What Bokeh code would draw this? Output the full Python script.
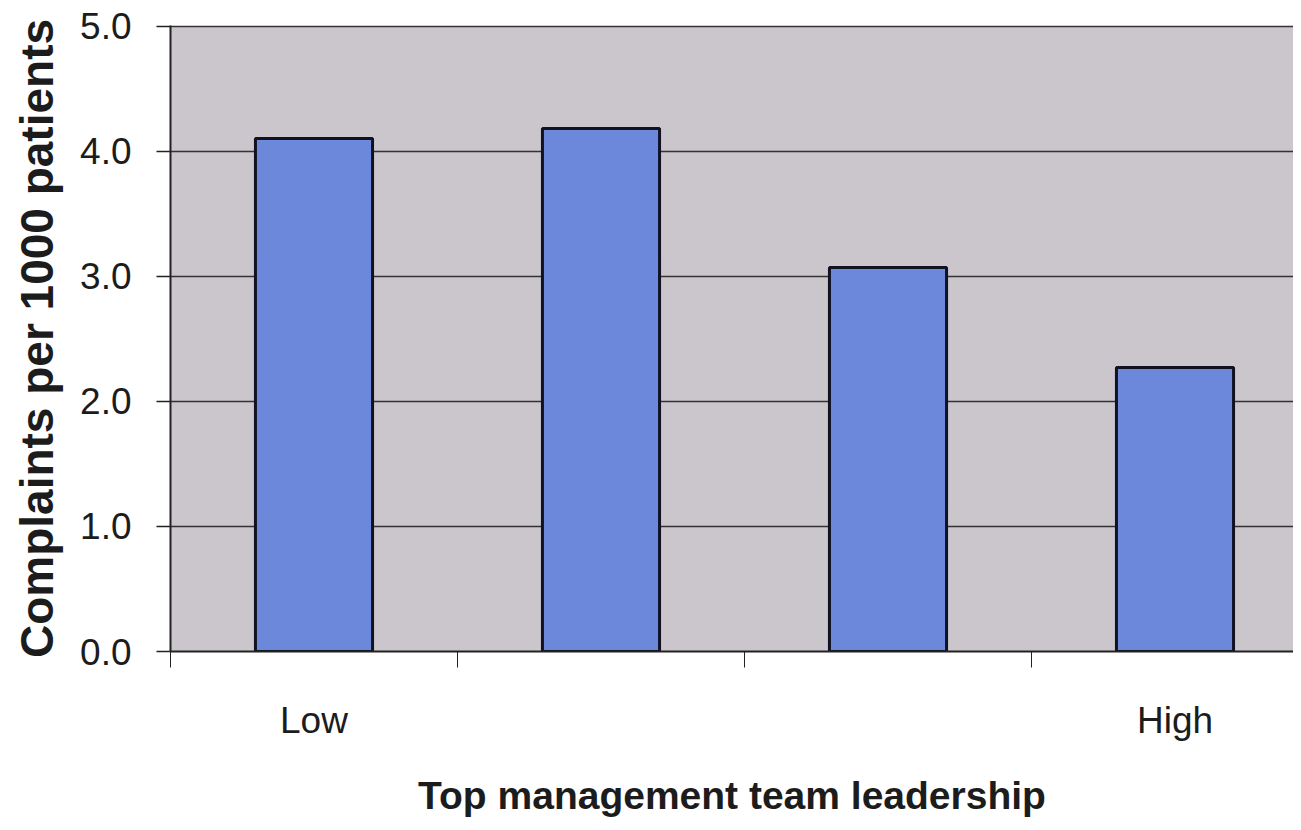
from bokeh.plotting import figure
from bokeh.models import FixedTicker, Range1d
from bokeh.embed import file_html
from bokeh.resources import INLINE

# ---- data ----
tick_labels = ["Low", "", "", "High"]
complaints = [4.10, 4.18, 3.07, 2.27]
y_ticks = [0, 1, 2, 3, 4, 5]

x_pos = [i + 0.5 for i in range(len(complaints))]

W, H = 1293, 826
LEFT, TOP, BOTTOM_Y = 170, 25, 651
frame_w = W - LEFT
x_end = frame_w / 287.0

p = figure(width=W, height=H, output_backend="svg", toolbar_location=None,
           x_range=Range1d(0, x_end), y_range=Range1d(0, 5.004),
           min_border_left=LEFT, min_border_top=TOP, min_border_bottom=H - BOTTOM_Y,
           min_border_right=0)

p.background_fill_color = "#cac6cc"
p.border_fill_color = "white"
p.outline_line_color = None

p.vbar(x=x_pos, top=complaints, bottom=0, width=0.408,
       fill_color="#6b88db", line_color="#111122", line_width=3)

TXT = "#1c1c1c"

# y axis
p.yaxis.ticker = FixedTicker(ticks=y_ticks)
p.yaxis.major_label_overrides = {t: f"{t:.1f}" for t in y_ticks}
p.yaxis.minor_tick_line_color = None
p.yaxis.major_tick_out = 14
p.yaxis.major_tick_in = 0
p.yaxis.major_tick_line_color = "#222222"
p.yaxis.major_tick_line_width = 1.5
p.yaxis.axis_line_color = "#222222"
p.yaxis.axis_line_width = 2
p.yaxis.major_label_text_font = "Liberation Sans"
p.yaxis.major_label_text_font_size = "37px"
p.yaxis.major_label_text_color = TXT
p.yaxis.major_label_standoff = 25
p.yaxis.axis_label = "Complaints per 1000 patients"
p.yaxis.axis_label_text_font = "Liberation Sans"
p.yaxis.axis_label_text_font_style = "bold"
p.yaxis.axis_label_text_font_size = "46px"
p.yaxis.axis_label_text_color = TXT
p.yaxis.axis_label_standoff = 14

# x axis
p.xaxis.ticker = FixedTicker(ticks=x_pos, minor_ticks=list(range(len(complaints) + 1)))
p.xaxis.major_label_overrides = {x: lab for x, lab in zip(x_pos, tick_labels)}
p.xaxis.major_tick_out = 0
p.xaxis.major_tick_in = 0
p.xaxis.minor_tick_out = 16
p.xaxis.minor_tick_in = 0
p.xaxis.minor_tick_line_color = "#222222"
p.xaxis.minor_tick_line_width = 1
p.xaxis.axis_line_color = "#222222"
p.xaxis.axis_line_width = 2
p.xaxis.major_label_text_font = "Liberation Sans"
p.xaxis.major_label_text_font_size = "37px"
p.xaxis.major_label_text_color = TXT
p.xaxis.major_label_standoff = 32
p.xaxis.axis_label = "Top management team leadership"
p.xaxis.axis_label_text_font = "Liberation Sans"
p.xaxis.axis_label_text_font_style = "bold"
p.xaxis.axis_label_text_font_size = "39px"
p.xaxis.axis_label_text_color = TXT
p.xaxis.axis_label_standoff = 30

# grid
p.xgrid.grid_line_color = None
p.ygrid.ticker = FixedTicker(ticks=y_ticks)
p.ygrid.grid_line_color = "#333333"
p.ygrid.grid_line_width = 1.5

open("out.html", "w").write(file_html(p, INLINE))
